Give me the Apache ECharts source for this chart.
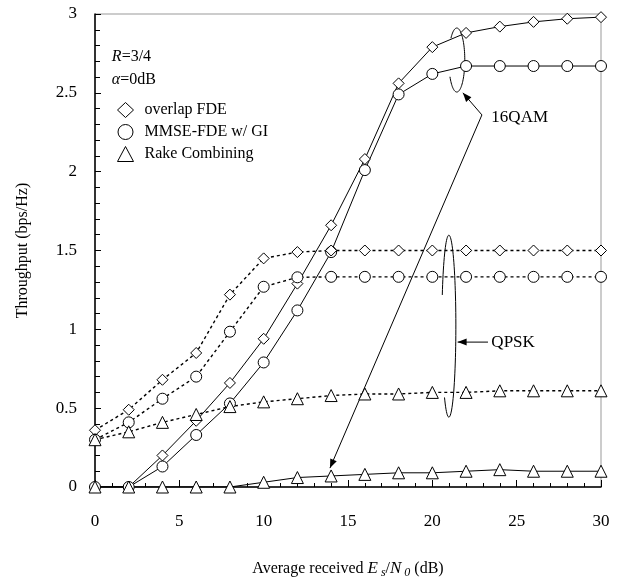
<!DOCTYPE html>
<html>
<head>
<meta charset="utf-8">
<script src="https://cdn.jsdelivr.net/npm/echarts@6/dist/echarts.min.js"></script>
<style>
  html, body { margin: 0; padding: 0; background: #fff; }
  #chart { width: 627px; height: 587px; }
</style>
</head>
<body>
<div id="chart"></div>
<script>
// Es/N0 (dB)
var snr = [0, 2, 4, 6, 8, 10, 12, 14, 16, 18, 20, 22, 24, 26, 28, 30];

// 16QAM (solid lines)
var qam16Overlap = [0, 0, 0.20, 0.42, 0.66, 0.94, 1.29, 1.66, 2.08, 2.56, 2.79, 2.88, 2.92, 2.95, 2.97, 2.98];
var qam16Mmse    = [0, 0, 0.13, 0.33, 0.53, 0.79, 1.12, 1.49, 2.01, 2.49, 2.62, 2.67, 2.67, 2.67, 2.67, 2.67];
var qam16Rake    = [0, 0, 0, 0, 0, 0.03, 0.06, 0.07, 0.08, 0.09, 0.09, 0.10, 0.11, 0.10, 0.10, 0.10];

// QPSK (dotted lines)
var qpskOverlap = [0.36, 0.49, 0.68, 0.85, 1.22, 1.45, 1.49, 1.50, 1.50, 1.50, 1.50, 1.50, 1.50, 1.50, 1.50, 1.50];
var qpskMmse    = [0.30, 0.41, 0.56, 0.70, 0.985, 1.27, 1.33, 1.333, 1.333, 1.333, 1.333, 1.333, 1.333, 1.333, 1.333, 1.333];
var qpskRake    = [0.30, 0.35, 0.41, 0.46, 0.51, 0.54, 0.56, 0.58, 0.59, 0.59, 0.60, 0.60, 0.61, 0.61, 0.61, 0.61];

var yTicks = [0, 0.5, 1, 1.5, 2, 2.5, 3];

var serif = '"Liberation Serif", "DejaVu Serif", serif';

function pairs(ys) {
  return snr.map(function (x, i) { return [x, ys[i]]; });
}

function makeSeries(name, ys, symbol, size, dotted) {
  return {
    name: name,
    type: 'line',
    data: pairs(ys),
    symbol: symbol,
    symbolSize: size,
    showAllSymbol: true,
    animation: false,
    itemStyle: { color: '#fff', borderColor: '#000', borderWidth: 1 },
    lineStyle: dotted
      ? { color: '#000', width: 1.4, type: [3, 3] }
      : { color: '#000', width: 1 },
    emphasis: { disabled: true }
  };
}

var myChart = echarts.init(document.getElementById('chart'));

var option = {
  backgroundColor: '#fff',
  animation: false,
  textStyle: { fontFamily: serif },
  grid: {
    left: 95, right: 26, top: 14, bottom: 100,
    show: true, borderColor: '#999', borderWidth: 1
  },
  legend: {
    left: 112, top: 97,
    orient: 'vertical',
    itemWidth: 16, itemHeight: 15, itemGap: 6,
    itemStyle: { color: '#fff', borderColor: '#000', borderWidth: 1 },
    textStyle: { fontFamily: serif, fontSize: 16, lineHeight: 16, color: '#000', padding: [0, 0, 0, 6] },
    data: [
      { name: 'overlap FDE', icon: 'diamond' },
      { name: 'MMSE-FDE w/ GI', icon: 'circle' },
      { name: 'Rake Combining', icon: 'triangle' }
    ]
  },
  xAxis: {
    type: 'value',
    min: 0, max: 30, interval: 5,
    name: '{n|Average received }{i|E}{s| s}{n|/}{i|N}{s| 0}{n| (dB)}',
    nameLocation: 'middle',
    nameGap: 72,
    nameTextStyle: {
      rich: {
        n: { fontFamily: serif, fontSize: 16, color: '#000' },
        i: { fontFamily: serif, fontSize: 17, fontStyle: 'italic', color: '#000' },
        s: { fontFamily: serif, fontSize: 12, fontStyle: 'italic', color: '#000', padding: [8, 0, 0, 0] }
      }
    },
    axisLine: { lineStyle: { color: '#000', width: 1.5 } },
    axisTick: { inside: true, length: 7, lineStyle: { color: '#000' } },
    minorTick: { show: true, splitNumber: 5, length: 4, lineStyle: { color: '#000' } },
    splitLine: { show: false },
    axisLabel: { fontFamily: serif, fontSize: 17, color: '#000', margin: 26 }
  },
  yAxis: {
    type: 'value',
    min: 0, max: 3, interval: 0.5,
    name: 'Throughput (bps/Hz)',
    nameLocation: 'middle',
    nameGap: 64,
    nameTextStyle: { fontFamily: serif, fontSize: 16, color: '#000' },
    axisLine: { show: true, lineStyle: { color: '#000', width: 1.5 } },
    axisTick: { inside: true, length: 6, lineStyle: { color: '#000' } },
    minorTick: { show: true, splitNumber: 5, length: 5, lineStyle: { color: '#000' } },
    splitLine: { show: false },
    axisLabel: {
      fontFamily: serif, fontSize: 17, color: '#000', margin: 18,
      formatter: function (v) { return yTicks.indexOf(v) >= 0 ? String(v) : ''; }
    }
  },
  series: [
    makeSeries('overlap FDE', qam16Overlap, 'diamond', 11, false),
    makeSeries('MMSE-FDE w/ GI', qam16Mmse, 'circle', 11, false),
    makeSeries('Rake Combining', qam16Rake, 'triangle', 12, false),
    makeSeries('overlap FDE', qpskOverlap, 'diamond', 11, true),
    makeSeries('MMSE-FDE w/ GI', qpskMmse, 'circle', 11, true),
    makeSeries('Rake Combining', qpskRake, 'triangle', 12, true)
  ]
};

myChart.setOption(option);

// annotations placed in data coordinates
function px(x, y) { return myChart.convertToPixel({ gridIndex: 0 }, [x, y]); }

var q16Ell = px(21.45, 2.708);
var q16Anchor = px(22.94, 2.36);
var q16Head1 = px(21.81, 2.50);
var q16Head2 = px(13.93, 0.12);
var q16Text = px(23.5, 2.345);
var qpEll = px(20.98, 1.02);
var qpFrom = px(23.3, 0.919);
var qpTo = px(21.5, 0.919);
var qpText = px(23.5, 0.919);
var rText = px(1.0, 2.73);
var aText = px(1.0, 2.58);

// ring drawn round the curves, open on its left side
function ring(c, rx, ry, gapTop, gapBottom) {
  var pts = [];
  var a0 = Math.PI + gapTop, a1 = 3 * Math.PI - gapBottom;
  for (var k = 0; k <= 80; k++) {
    var t = a0 + (a1 - a0) * k / 80;
    pts.push([c[0] + rx * Math.cos(t), c[1] + ry * Math.sin(t)]);
  }
  return { type: 'polyline', shape: { points: pts },
    style: { fill: 'none', stroke: '#000', lineWidth: 1 } };
}

function arrowHead(from, to) {
  var ang = Math.atan2(to[1] - from[1], to[0] - from[0]);
  var L = 9, W = 3.5;
  var bx = to[0] - L * Math.cos(ang), by = to[1] - L * Math.sin(ang);
  var nx = -Math.sin(ang) * W, ny = Math.cos(ang) * W;
  return {
    type: 'polygon',
    shape: { points: [to, [bx + nx, by + ny], [bx - nx, by - ny]] },
    style: { fill: '#000' }
  };
}

myChart.setOption({
  graphic: [
    ring(q16Ell, 8, 32, 0.75, 0.55),
    { type: 'line', shape: { x1: q16Anchor[0], y1: q16Anchor[1], x2: q16Head1[0], y2: q16Head1[1] },
      style: { stroke: '#000', lineWidth: 1 } },
    arrowHead(q16Anchor, q16Head1),
    { type: 'line', shape: { x1: q16Anchor[0], y1: q16Anchor[1], x2: q16Head2[0], y2: q16Head2[1] },
      style: { stroke: '#000', lineWidth: 1 } },
    arrowHead(q16Anchor, q16Head2),
    { type: 'text', x: q16Text[0], y: q16Text[1],
      style: { text: '16QAM', fontFamily: serif, fontSize: 17, fill: '#000', verticalAlign: 'middle' } },
    ring(qpEll, 7, 91, 0.35, 0.9),
    { type: 'line', shape: { x1: qpFrom[0], y1: qpFrom[1], x2: qpTo[0], y2: qpTo[1] },
      style: { stroke: '#000', lineWidth: 1 } },
    arrowHead(qpFrom, qpTo),
    { type: 'text', x: qpText[0], y: qpText[1],
      style: { text: 'QPSK', fontFamily: serif, fontSize: 17, fill: '#000', verticalAlign: 'middle' } },
    { type: 'text', x: rText[0], y: rText[1],
      style: { text: '{i|R}{n|=3/4}', verticalAlign: 'middle',
        rich: { i: { fontFamily: serif, fontSize: 16, fontStyle: 'italic', fill: '#000' },
                n: { fontFamily: serif, fontSize: 16, fill: '#000' } } } },
    { type: 'text', x: aText[0], y: aText[1],
      style: { text: '{i|α}{n|=0dB}', verticalAlign: 'middle',
        rich: { i: { fontFamily: serif, fontSize: 16, fontStyle: 'italic', fill: '#000' },
                n: { fontFamily: serif, fontSize: 16, fill: '#000' } } } }
  ]
});

window.addEventListener('resize', function () {
  myChart.resize();
});
</script>
</body>
</html>
